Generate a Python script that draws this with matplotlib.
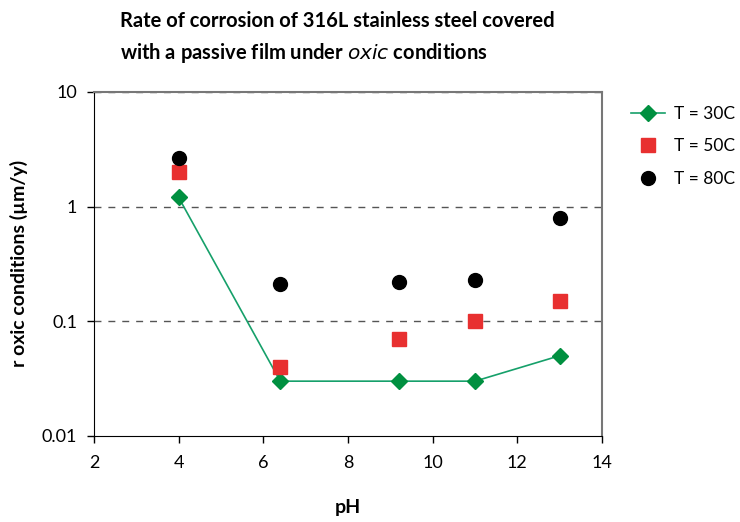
import numpy as np
import matplotlib.pyplot as plt
from matplotlib.ticker import FixedLocator, NullLocator, FuncFormatter

plt.rcParams['font.family'] = ['Lato', 'DejaVu Sans']

# pH values and corrosion rates (um/y) per temperature
ph = [4, 6.4, 9.2, 11, 13]
r_30 = [1.2, 0.03, 0.03, 0.03, 0.05]
r_50 = [2.0, 0.04, 0.07, 0.1, 0.15]
r_80 = [2.65, 0.21, 0.22, 0.23, 0.8]

fig = plt.figure(figsize=(7.4, 5.22), dpi=100)
ax = fig.add_axes([0.127, 0.165, 0.6865, 0.659])

ax.set_yscale('log')
ax.set_xlim(2, 14)
ax.set_ylim(0.01, 10)

for yv in [0.1, 1, 10]:
    ax.axhline(yv, color='#555555', lw=1, ls=(0, (5, 5)), zorder=1)

ax.plot(ph, r_30, color='#16a06a', lw=1.2, marker='D', ms=8,
        mfc='#009040', mec='#009040', label='T = 30C', zorder=3)
ax.plot(ph, r_50, ls='none', marker='s', ms=10, mfc='#e83030',
        mec='#e83030', label='T = 50C', zorder=3)
ax.plot(ph, r_80, ls='none', marker='o', ms=10, mfc='black',
        mec='black', label='T = 80C', zorder=4)

ax.xaxis.set_major_locator(FixedLocator([2, 4, 6, 8, 10, 12, 14]))
ax.yaxis.set_major_locator(FixedLocator([0.01, 0.1, 1, 10]))
ax.yaxis.set_minor_locator(NullLocator())
ax.yaxis.set_major_formatter(FuncFormatter(lambda v, p: '%g' % v))
ax.tick_params(direction='out', length=5, width=1, labelsize=13)
ax.tick_params(axis='x', pad=9)
ax.tick_params(axis='y', pad=7)

for s in ['left', 'bottom']:
    ax.spines[s].set_color('black')
for s in ['top', 'right']:
    ax.spines[s].set_color('#777777')
    ax.spines[s].set_linewidth(1.5)

ax.set_xlabel('pH', fontsize=14, fontweight='bold', labelpad=20)
ax.set_ylabel('r oxic conditions (µm/y)', fontsize=14, fontweight='bold',
              labelpad=10)

fig.text(0.162, 0.978, 'Rate of corrosion of 316L stainless steel covered',
         fontsize=14.5, fontweight='bold', va='top')
fig.text(0.162, 0.921, 'with a passive film under $\\it{oxic}$ conditions',
         fontsize=14.5, fontweight='bold', va='top')

leg = fig.legend(loc='upper left', bbox_to_anchor=(0.845, 0.807),
                 frameon=False, fontsize=12.5, labelspacing=0.95,
                 handlelength=2.0, handletextpad=0.5, borderaxespad=0,
                 borderpad=0.3)

fig.savefig('out.png', dpi=100)
